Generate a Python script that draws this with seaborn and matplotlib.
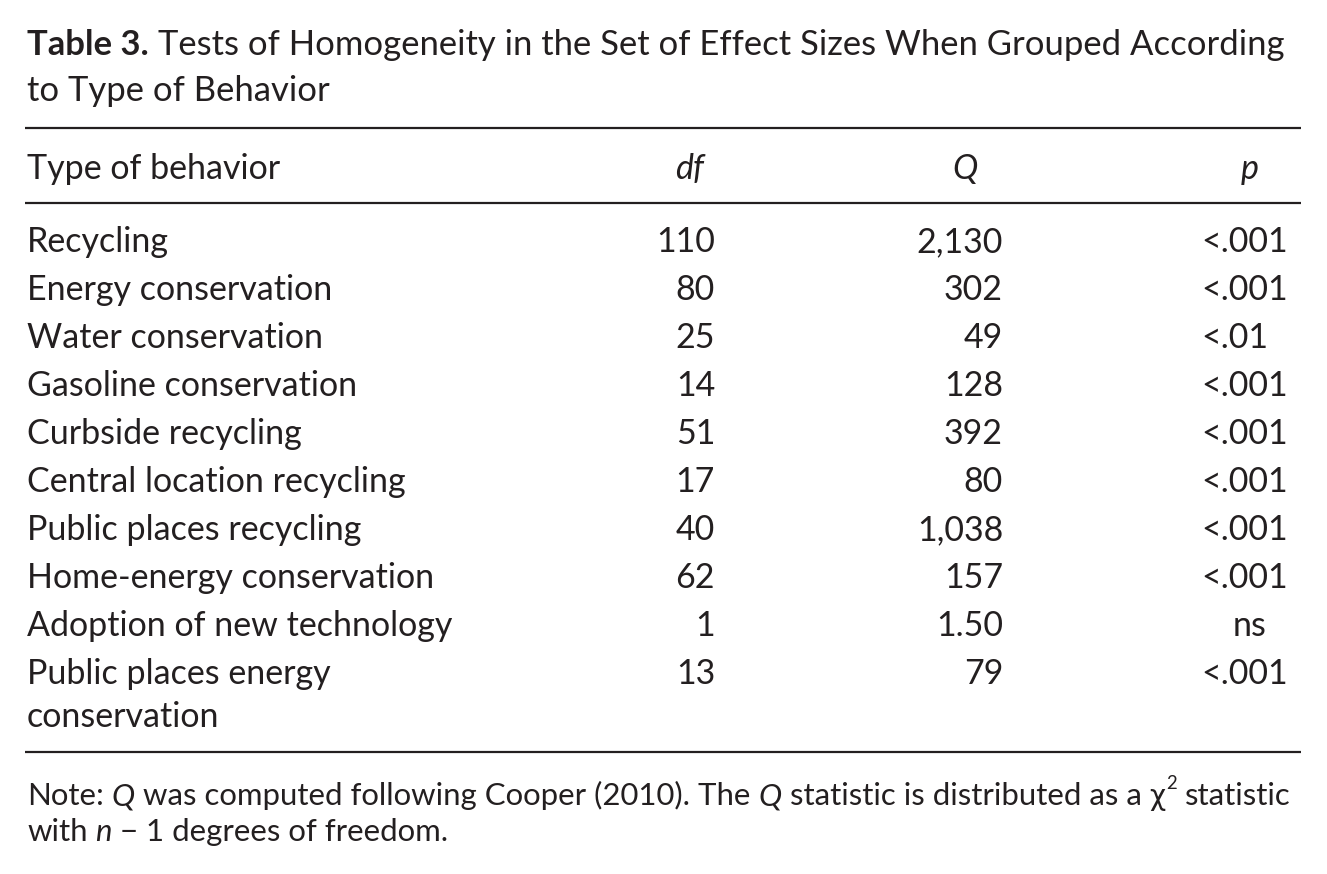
import matplotlib
matplotlib.use("Agg")
import matplotlib.pyplot as plt
import seaborn as sns

sns.set_theme(style="white")
plt.rcParams['font.family'] = ['Lato', 'DejaVu Sans']

title_bold = "Table 3."
title_line1 = " Tests of Homogeneity in the Set of Effect Sizes When Grouped According"
title_line2 = "to Type of Behavior"
col_headers = ["Type of behavior", "df", "Q", "p"]
behaviors = ["Recycling", "Energy conservation", "Water conservation", "Gasoline conservation",
             "Curbside recycling", "Central location recycling", "Public places recycling",
             "Home-energy conservation", "Adoption of new technology", "Public places energy\nconservation"]
df_vals = ["110", "80", "25", "14", "51", "17", "40", "62", "1", "13"]
q_vals = ["2,130", "302", "49", "128", "392", "80", "1,038", "157", "1.50", "79"]
p_vals = ["<.001", "<.001", "<.01", "<.001", "<.001", "<.001", "<.001", "<.001", "ns", "<.001"]
note_line1 = [("Note: ", "normal"), ("Q", "italic"), (" was computed following Cooper (2010). The ", "normal"),
              ("Q", "italic"), (" statistic is distributed as a ", "normal"), ("χ", "chi"), ("2", "sup"),
              (" statistic", "normal")]
note_line2 = [("with ", "normal"), ("n", "italic"), (" − 1 degrees of freedom.", "normal")]

W, H = 1327, 874
INK = "#231f20"
fig = plt.figure(figsize=(W / 100, H / 100), dpi=100)
ax = fig.add_axes([0, 0, 1, 1])
ax.set_xlim(0, W)
ax.set_ylim(H, 0)
ax.axis("off")
fig.canvas.draw()
renderer = fig.canvas.get_renderer()

FS = 24.5

def width_px(s, **kw):
    t = ax.text(0, 0, s, **kw)
    bb = t.get_window_extent(renderer=renderer)
    t.remove()
    return bb.width

def space_w(**kw):
    return width_px("x x", **kw) - width_px("xx", **kw)

def draw_pieces(x, y, pieces, size, dry=False):
    x_start = x
    for s, style in pieces:
        kw = dict(fontsize=size, color=INK)
        dy = 0
        if style == "italic":
            kw["fontstyle"] = "italic"
        elif style == "bold":
            kw["fontweight"] = "bold"
        elif style == "chi":
            kw["family"] = ["DejaVu Sans"]
            kw["fontsize"] = size * 0.9
        elif style == "sup":
            kw["fontsize"] = size * 0.6
            dy = -size * 0.72
        lead = len(s) - len(s.lstrip(" "))
        trail = len(s) - len(s.rstrip(" "))
        sw = space_w(**kw)
        core = s.strip(" ")
        x += lead * sw
        if not dry:
            ax.text(x, y + dy, core, ha="left", va="baseline", **kw)
        x += width_px(core, **kw) + trail * sw
    return x - x_start

def fit_size(pieces, target, base):
    w = draw_pieces(0, 0, pieces, base, dry=True)
    return base * target / w

# Title
t1 = [(title_bold, "bold"), (title_line1, "normal")]
TFS = fit_size(t1, 1256, 24)
draw_pieces(27, 55, t1, TFS)
draw_pieces(27, 101, [(title_line2, "normal")], TFS)

# Rules
ax.hlines([128, 203, 752], 25, 1301, color=INK, lw=1.6)

# Header
ax.text(27, 179, col_headers[0], ha="left", va="baseline", fontsize=FS, color=INK)
ax.text(690, 179, col_headers[1], ha="center", va="baseline", fontsize=FS, fontstyle="italic", color=INK)
ax.text(965, 179, col_headers[2], ha="center", va="baseline", fontsize=FS, fontstyle="italic", color=INK)
ax.text(1250, 179, col_headers[3], ha="center", va="baseline", fontsize=FS, fontstyle="italic", color=INK)

# Rows
y0 = 252
step = 48
sub_step = 43
p_left = 1288 - width_px("<.001", fontsize=FS)
for i, (b, d, q, p) in enumerate(zip(behaviors, df_vals, q_vals, p_vals)):
    y = y0 + i * step
    for k, part in enumerate(b.split("\n")):
        ax.text(27, y + k * sub_step, part, ha="left", va="baseline", fontsize=FS, color=INK)
    ax.text(715, y, d, ha="right", va="baseline", fontsize=FS, color=INK)
    ax.text(1003, y, q, ha="right", va="baseline", fontsize=FS, color=INK)
    if p == "ns":
        ax.text(1250, y, p, ha="center", va="baseline", fontsize=FS, color=INK)
    else:
        ax.text(p_left, y, p, ha="left", va="baseline", fontsize=FS, color=INK)

# Note
NFS = fit_size(note_line1, 1263, FS)
draw_pieces(27, 805, note_line1, NFS)
draw_pieces(27, 841, note_line2, NFS)

fig.savefig("out.png", dpi=100, facecolor="white")
